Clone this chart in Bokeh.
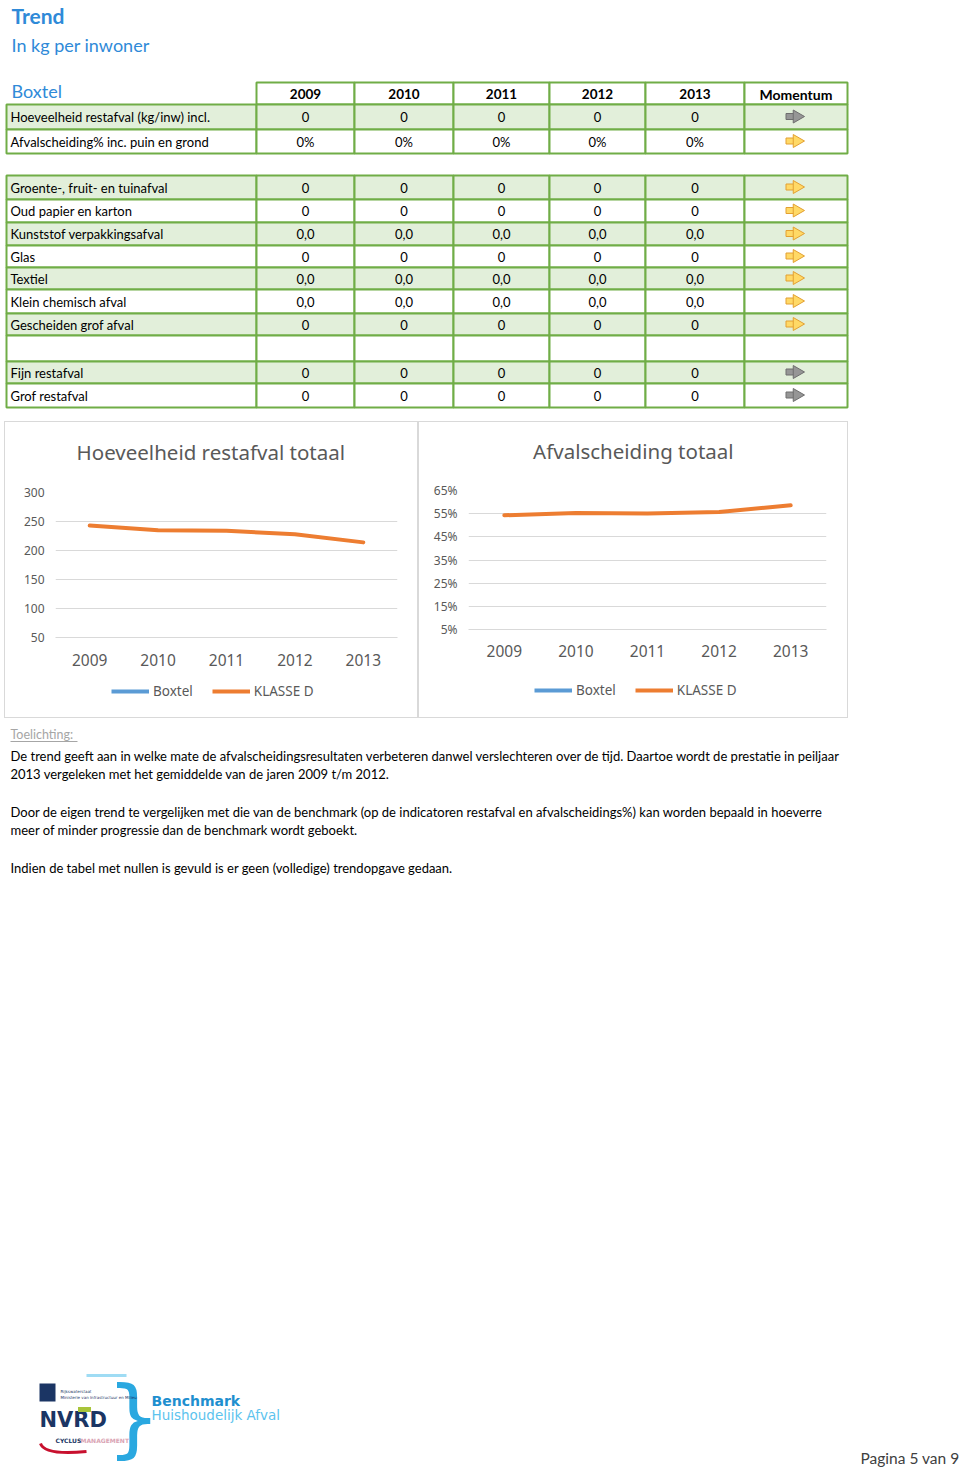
import numpy as np
from bokeh.plotting import figure
from bokeh.models import Range1d, FactorRange, FixedTicker, Legend, LegendItem, NumeralTickFormatter, Spacer
from bokeh.layouts import column, row
from bokeh.core.properties import value
from bokeh.embed import file_html
from bokeh.resources import INLINE

# ---------------- data ----------------
page_title = "Trend"
page_subtitle = "In kg per inwoner"
gemeente = "Boxtel"
years = ["2009", "2010", "2011", "2012", "2013"]
momentum_header = "Momentum"

table1_labels = ["Hoeveelheid restafval (kg/inw) incl.", "Afvalscheiding%  inc. puin en grond"]
table1_values = [["0", "0", "0", "0", "0"],
                 ["0%", "0%", "0%", "0%", "0%"]]
table1_momentum = ["grijs", "geel"]

table2_labels = ["Groente-, fruit- en tuinafval", "Oud papier en karton", "Kunststof verpakkingsafval",
                 "Glas", "Textiel", "Klein chemisch afval", "Gescheiden grof afval", "",
                 "Fijn restafval", "Grof restafval"]
table2_values = [["0", "0", "0", "0", "0"],
                 ["0", "0", "0", "0", "0"],
                 ["0,0", "0,0", "0,0", "0,0", "0,0"],
                 ["0", "0", "0", "0", "0"],
                 ["0,0", "0,0", "0,0", "0,0", "0,0"],
                 ["0,0", "0,0", "0,0", "0,0", "0,0"],
                 ["0", "0", "0", "0", "0"],
                 ["", "", "", "", ""],
                 ["0", "0", "0", "0", "0"],
                 ["0", "0", "0", "0", "0"]]
table2_momentum = ["geel", "geel", "geel", "geel", "geel", "geel", "geel", "", "grijs", "grijs"]

series_names = ["Boxtel", "KLASSE D"]
restafval_title = "Hoeveelheid restafval totaal"
restafval_boxtel = [0, 0, 0, 0, 0]
restafval_klasse_d = [243, 235, 234, 228, 214]
restafval_ticks = [50, 100, 150, 200, 250, 300]

scheiding_title = "Afvalscheiding totaal"
scheiding_boxtel = [0.0, 0.0, 0.0, 0.0, 0.0]
scheiding_klasse_d = [0.543, 0.553, 0.551, 0.557, 0.586]
scheiding_ticks = [0.05, 0.15, 0.25, 0.35, 0.45, 0.55, 0.65]

toelichting_title = "Toelichting:"
toelichting_lines = [
    "De trend geeft aan in welke mate de afvalscheidingsresultaten verbeteren danwel verslechteren over de tijd. Daartoe wordt de prestatie in peiljaar",
    "2013 vergeleken met het gemiddelde van de jaren 2009 t/m 2012.",
    "",
    "Door de eigen trend te vergelijken met die van de benchmark (op de indicatoren restafval en afvalscheidings%) kan worden bepaald in hoeverre",
    "meer of minder progressie dan de benchmark wordt geboekt.",
    "",
    "Indien de tabel met nullen is gevuld is er geen (volledige) trendopgave gedaan.",
]
logo_line1 = "Benchmark"
logo_line2 = "Huishoudelijk Afval"
logo_small = ["Rijkswaterstaat", "Ministerie van Infrastructuur en Milieu"]
logo_nvrd = "NVRD"
logo_cyclus = ["CYCLUS", "MANAGEMENT"]
page_footer = "Pagina 5 van 9"

# ---------------- styles ----------------
BLUE = "#2f8ad8"
GREEN = "#70ad47"
SHADE = "#e2efda"
ORANGE = "#ed7d31"
SBLUE = "#5b9bd5"
GRAY_TXT = "#595959"
GRID = "#d9d9d9"
FONT = "Lato"
CFONT = "Noto Sans"
ARROW_FILL = {"geel": "#ffd966", "grijs": "#969696"}
ARROW_LINE = {"geel": "#e3a032", "grijs": "#6e6e6e"}
BOX = {"outline": "1px solid #d9d9d9", "outline-offset": "-1px"}

W = 960
H_TOP = 421
H_CH = 297
H_BOT = 1467 - H_TOP - H_CH

col_edges = [6, 256, 354, 453, 549, 645, 744, 847]
col_centers = [(col_edges[i] + col_edges[i + 1]) / 2 for i in range(7)]
hdr_edges = [82, 104]
t1_edges = [104, 129, 153]
t2_edges = [175, 199, 222, 245, 267, 289, 313, 335, 361, 383, 407]


def blank_fig(w, h, y0=0):
    p = figure(width=w, height=h, x_range=Range1d(0, w), y_range=Range1d(y0 + h, y0),
               x_axis_type=None, y_axis_type=None, toolbar_location=None,
               output_backend="svg", min_border=0, outline_line_color=None,
               background_fill_alpha=0, border_fill_alpha=0)
    p.grid.visible = False
    return p


def txt(p, x, y, t, size, color="black", align="left", style="normal", font=FONT, baseline="middle"):
    p.text(x=x, y=y, text=t, text_font=value(font), text_font_size=size, text_color=color,
           text_align=align, text_baseline=baseline, text_font_style=style)


def draw_rows(p, labels, values, momentum, edges):
    n = len(labels)
    L, R, T, B, F = [], [], [], [], []
    for i in range(n):
        fill = SHADE if i % 2 == 0 else "white"
        for c in range(7):
            L.append(col_edges[c]); R.append(col_edges[c + 1])
            T.append(edges[i]); B.append(edges[i + 1]); F.append(fill)
    p.quad(left=L, right=R, top=T, bottom=B, fill_color=F, line_color=GREEN, line_width=2)
    ys = [(edges[i] + edges[i + 1]) / 2 for i in range(n)]
    txt(p, [10] * n, ys, labels, "13px")
    vx, vy, vt = [], [], []
    for i in range(n):
        for j, v in enumerate(values[i]):
            vx.append(col_centers[j + 1]); vy.append(ys[i]); vt.append(v)
    txt(p, vx, vy, vt, "13px", align="center")
    ax = [col_centers[6] - 2 for i in range(n) if momentum[i]]
    ay = [ys[i] - 0.5 for i in range(n) if momentum[i]]
    af = [ARROW_FILL[m] for m in momentum if m]
    al = [ARROW_LINE[m] for m in momentum if m]
    p.rect(x=[x - 3.5 for x in ax], y=ay, width=9, height=6, fill_color=af, line_color=al, line_width=1)
    p.scatter(x=[x + 3 for x in ax], y=ay, marker="triangle", size=13, angle=-90, angle_units="deg",
              fill_color=af, line_color=al, line_width=1)


# ---------------- top: title + tables ----------------
top = blank_fig(W, H_TOP)
txt(top, [11], [15], [page_title], "21px", BLUE, style="bold")
txt(top, [11], [44], [page_subtitle], "18px", BLUE)
txt(top, [11], [90], [gemeente], "18px", BLUE)
top.quad(left=col_edges[1:-1], right=col_edges[2:], top=[hdr_edges[0]] * 6, bottom=[hdr_edges[1]] * 6,
         fill_color="white", line_color=GREEN, line_width=2)
txt(top, col_centers[1:6], [93] * 5, years, "13.5px", style="bold", align="center")
txt(top, [col_centers[6]], [94], [momentum_header], "14px", style="bold", align="center")
draw_rows(top, table1_labels, table1_values, table1_momentum, t1_edges)
draw_rows(top, table2_labels, table2_values, table2_momentum, t2_edges)


# ---------------- charts ----------------
def make_chart(title, boxtel, klasse, y0, y1, ticks, pct,
               fw, fh, fl, fr, title_h, title_x, title_y, bottom_b, x_stand, leg_x, leg_y):
    w = fl + fw + fr
    # title strip
    t = blank_fig(w, title_h)
    txt(t, [title_x], [title_y], [title], "20.5px", GRAY_TXT, align="center", font=CFONT)
    # plot
    p = figure(frame_width=fw, frame_height=fh, x_range=FactorRange(*years), y_range=Range1d(y0, y1),
               toolbar_location=None, output_backend="svg",
               min_border_left=fl, min_border_right=fr, min_border_top=10, min_border_bottom=bottom_b,
               outline_line_color=None, background_fill_alpha=0, border_fill_alpha=0)
    p.line(x=years, y=boxtel, line_width=4, color=SBLUE, line_cap="round", line_join="round")
    p.line(x=years, y=klasse, line_width=4, color=ORANGE, line_cap="round", line_join="round")
    p.xgrid.visible = False
    p.ygrid.ticker = FixedTicker(ticks=ticks)
    p.ygrid.grid_line_color = GRID
    p.yaxis.ticker = FixedTicker(ticks=ticks)
    if pct:
        p.yaxis.formatter = NumeralTickFormatter(format="0%")
    p.yaxis.axis_line_color = None
    p.yaxis.major_tick_line_color = None
    p.yaxis.minor_tick_line_color = None
    p.yaxis.major_tick_out = 0
    p.yaxis.major_label_standoff = 11
    p.yaxis.major_label_text_font = CFONT
    p.yaxis.major_label_text_font_size = "12px"
    p.yaxis.major_label_text_color = GRAY_TXT
    p.xaxis.axis_line_color = GRID
    p.xaxis.major_tick_line_color = None
    p.xaxis.major_tick_out = 0
    p.xaxis.major_label_standoff = x_stand
    p.xaxis.major_label_text_font = CFONT
    p.xaxis.major_label_text_font_size = "15.5px"
    p.xaxis.major_label_text_color = GRAY_TXT
    plot_h = 10 + fh + bottom_b
    # legend strip (series drawn off-range, only their legend entries show)
    lh = H_CH - title_h - plot_h
    lg = figure(width=w, height=lh, x_range=FactorRange(*years), y_range=Range1d(1000, 1001),
                x_axis_type=None, y_axis_type=None, toolbar_location=None, output_backend="svg",
                min_border=0, outline_line_color=None, background_fill_alpha=0, border_fill_alpha=0)
    lg.grid.visible = False
    r1 = lg.line(x=years, y=boxtel, line_width=4, color=SBLUE)
    r2 = lg.line(x=years, y=klasse, line_width=4, color=ORANGE)
    leg = Legend(items=[LegendItem(label=series_names[0], renderers=[r1]),
                        LegendItem(label=series_names[1], renderers=[r2])],
                 orientation="horizontal", location=(leg_x, leg_y), border_line_color=None,
                 background_fill_alpha=0, label_text_font=CFONT, label_text_font_size="13.5px",
                 label_text_color=GRAY_TXT, glyph_width=38, glyph_height=16, label_standoff=4,
                 spacing=19, padding=4, margin=0)
    lg.add_layout(leg, "center")
    return column(t, p, lg, styles=BOX, spacing=0)


c1 = make_chart(restafval_title, restafval_boxtel, restafval_klasse_d, 50, 300, restafval_ticks, False,
                342, 145, 51, 21, 61, 188, 30, 38, 16, 56, 18)
c2 = make_chart(scheiding_title, scheiding_boxtel, scheiding_klasse_d, 0.05, 0.65, scheiding_ticks, True,
                358, 139, 50, 22, 59, 198, 29, 40, 15, 66, 19)

# ---------------- bottom: notes, logo, footer ----------------
y_b = H_TOP + H_CH
bot = blank_fig(W, H_BOT, y_b)
txt(bot, [10], [734], [toelichting_title], "12.5px", "#a6a6a6")
bot.segment(x0=[10], y0=[741], x1=[77], y1=[741], line_color="#a6a6a6", line_width=1)
ly = [755 + i * 18.7 for i in range(len(toelichting_lines))]
txt(bot, [10] * len(toelichting_lines), ly, toelichting_lines, "13px")

# logo
bot.segment(x0=[86], y0=[1375], x1=[126], y1=[1375], line_color="#9fdcf4", line_width=3)
txt(bot, [133], [1416], ["}"], "86px", "#2aa8e0", align="center", font="DejaVu Sans")
bot.rect(x=[47], y=[1392], width=16, height=18, fill_color="#1b3564", line_color=None)
txt(bot, [60, 60], [1391, 1397], logo_small, "4px", "#1b3564", font="DejaVu Sans")
txt(bot, [39], [1419], [logo_nvrd], "21px", "#1b3564", style="bold", font="DejaVu Sans")
bot.rect(x=[84], y=[1409], width=13, height=5, fill_color="#a8c43a", line_color=None)
txt(bot, [55, 80], [1440, 1440], logo_cyclus, "6px", ["#1b3564", "#d9a3b3"], style="bold", font="DejaVu Sans")
bot.quadratic(x0=[40], y0=[1443], x1=[86], y1=[1451], cx=[44], cy=[1455], line_color="#c8102e", line_width=3)
txt(bot, [151], [1400], [logo_line1], "14px", "#1f8fcf", style="bold", font="DejaVu Sans")
txt(bot, [151], [1414], [logo_line2], "13.5px", "#5cc3ee", font="DejaVu Sans")
txt(bot, [959], [1457], [page_footer], "15.5px", "#404040", align="right", font=FONT)

layout = column(top, row(Spacer(width=4, height=H_CH), c1, c2, spacing=0), bot, spacing=0)
open("out.html", "w").write(file_html(layout, INLINE))
